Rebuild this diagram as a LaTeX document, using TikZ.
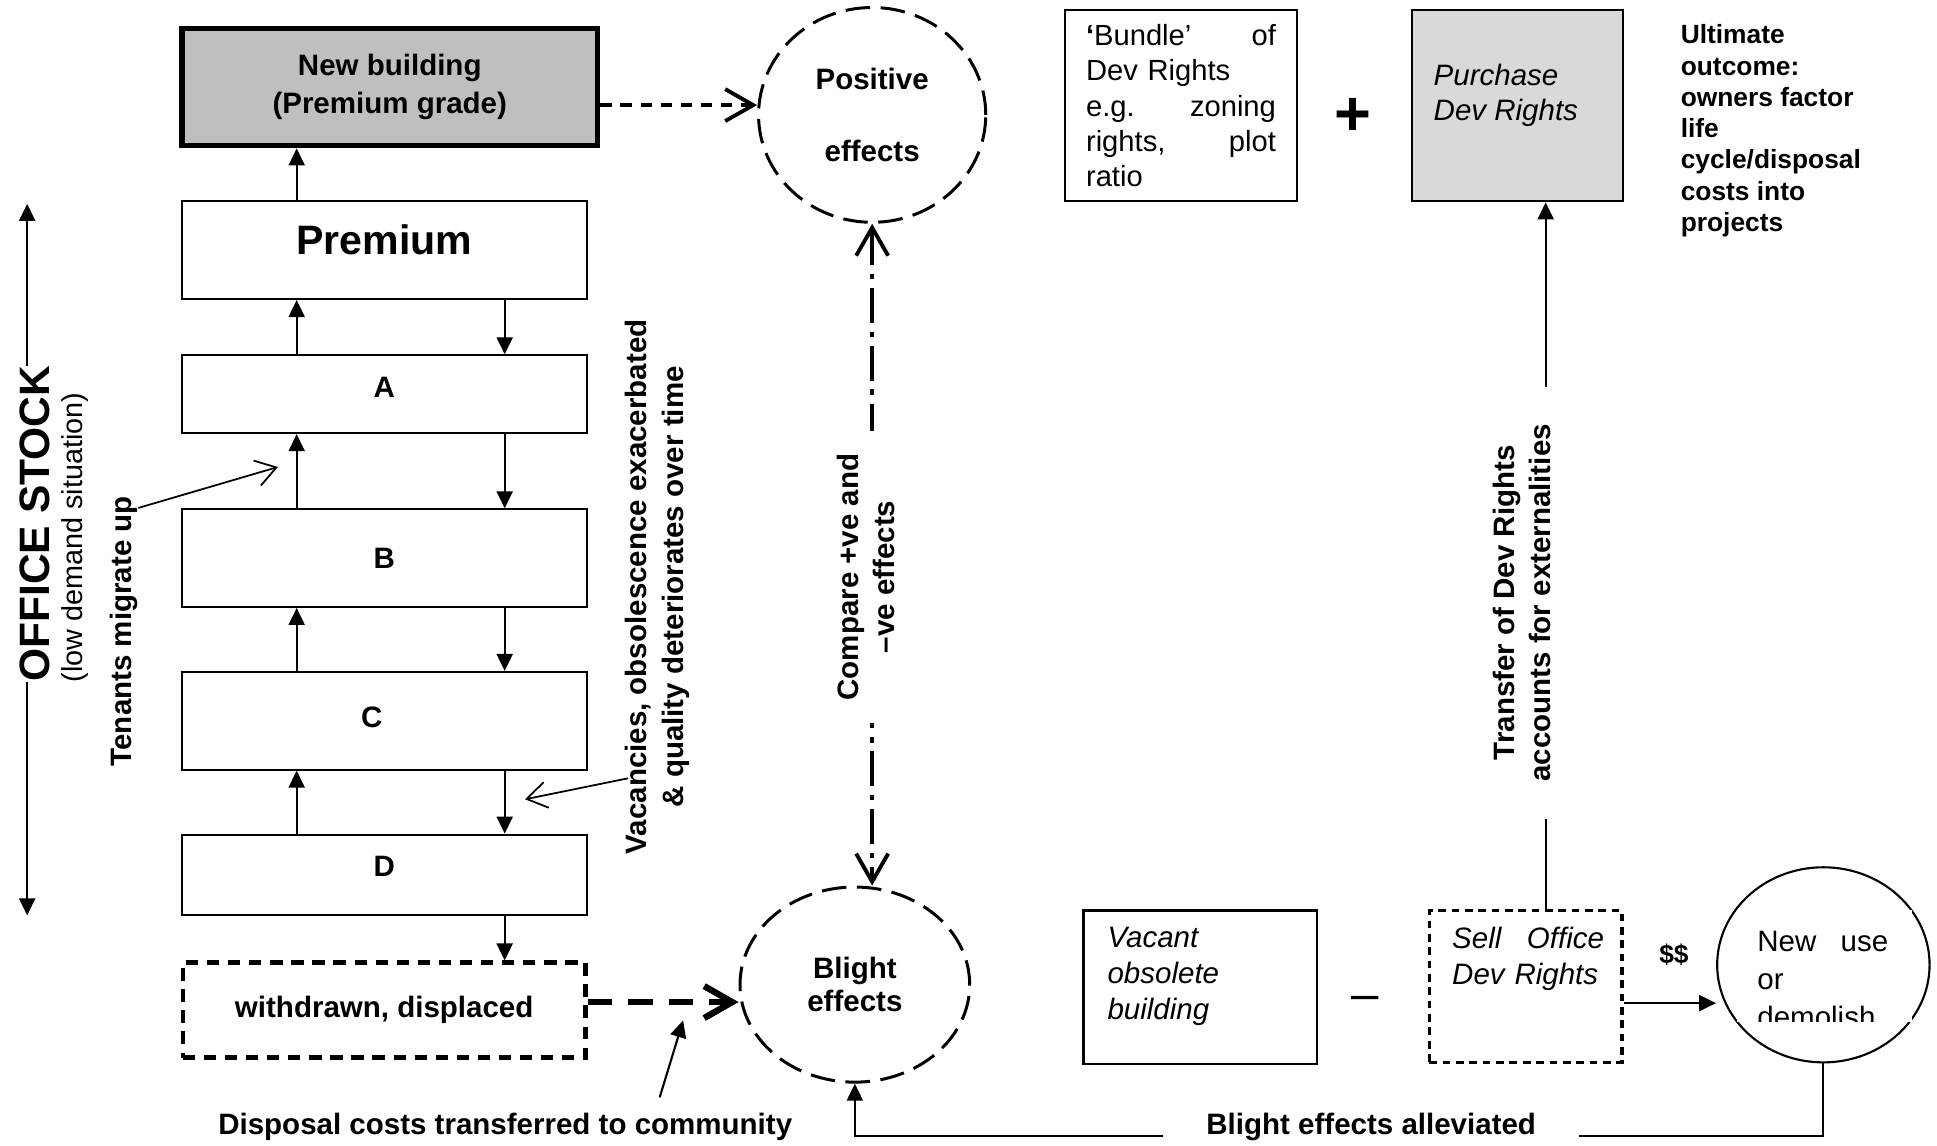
\documentclass[tikz,border=0pt]{standalone}
\usepackage{fontspec}
\setmainfont{Liberation Sans}
\usetikzlibrary{positioning, arrows.meta, shapes.geometric}

\begin{document}
\begin{tikzpicture}[
    x=0.012353cm, y=-0.012353cm,
    grade/.style={rectangle, draw, line width=0.6pt, minimum width=4.05cm, align=center,
                  font=\fontsize{8.4}{10.9}\selectfont\bfseries, inner sep=0pt},
    effect/.style={ellipse, draw, line width=0.85pt, dash pattern=on 7pt off 3pt,
                   inner sep=0pt, align=center, font=\fontsize{8.4}{10.5}\selectfont\bfseries},
    box/.style={rectangle, draw, line width=0.6pt, inner sep=0pt},
    txt/.style={inner sep=0pt, anchor=north west, align=left, font=\fontsize{8.4}{10.2}\selectfont},
    lbl/.style={inner sep=0pt, align=center, font=\fontsize{8.4}{10.5}\selectfont\bfseries},
    arr/.style={-{Triangle[length=1.7mm, width=1.6mm]}, line width=0.6pt},
    thinbarb/.style={-{Straight Barb[length=2mm, width=2.6mm]}, line width=0.5pt},
    barb/.style={-{Straight Barb[length=2.8mm, width=3.2mm]}, line width=1.1pt},
]
\useasboundingbox (0,0) rectangle (1568,927);

% Office stock grades
\node[grade, minimum width=4.16cm, minimum height=1.17cm, fill=gray!50, line width=1.6pt] (newb) at (315.5,70.5) {New building\\(Premium grade)};
\node[grade, minimum height=0.976cm, text depth=0.21cm, font=\fontsize{11.7}{14}\selectfont\bfseries] (prem) at (311,202.5) {Premium};
\node[grade, minimum height=0.778cm, text depth=0.136cm, below=0.543cm of prem] (ga) {A};
\node[grade, minimum height=0.976cm, below=0.742cm of ga] (gb) {B};
\node[grade, minimum height=0.976cm, text depth=0.08cm, below=0.63cm of gb] (gc) {C\hspace{0.25cm}};
\node[grade, minimum height=0.803cm, text depth=0.16cm, below=0.63cm of gc] (gd) {D};
\node[grade, minimum height=0.951cm, minimum width=4.03cm, below=0.445cm of gd,
      line width=1.2pt, dash pattern=on 3.5pt off 2.5pt] (wd) {withdrawn, displaced};

% Migration up / deterioration down
\foreach \lo/\hi in {prem/newb, ga/prem, gb/ga, gc/gb, gd/gc}
  \draw[arr] ([xshift=1.16cm]\lo.north west) -- ([xshift=1.16cm]\lo.north west |- \hi.south);
\foreach \hi/\lo in {prem/ga, ga/gb, gb/gc, gc/gd, gd/wd}
  \draw[arr] ([xshift=-0.83cm]\hi.south east) -- ([xshift=-0.83cm]\hi.south east |- \lo.north);

% Effects
\node[effect, minimum width=2.273cm, minimum height=2.149cm] (pos) at (706,93) {Positive\\[10pt]effects};
\node[effect, minimum width=2.298cm, minimum height=1.952cm, font=\fontsize{8.4}{9.2}\selectfont\bfseries] (blight) at (692,797) {Blight\\effects};

\draw[barb, dash pattern=on 3.3pt off 2.4pt] ([yshift=-0.18cm]newb.east) -- ([yshift=-0.18cm]newb.east -| pos.west);
\draw[barb, line width=1.8pt, dash pattern=on 7pt off 4.5pt] ([yshift=0.08cm]wd.east) -- ([yshift=0.08cm]wd.east -| blight.west);
\draw[{Straight Barb[length=2.8mm, width=3.2mm]}-{Straight Barb[length=2.8mm, width=3.2mm]}, line width=1.1pt,
      dash pattern=on 10pt off 2.5pt on 1.5pt off 2.5pt] (pos.south) -- (pos.south |- blight.north);
\node[lbl, rotate=90, fill=white, inner xsep=0.23cm, inner ysep=2pt] (cmp) at (701,467) {Compare +ve and\\–ve effects};

% Side labels
\coordinate (stktop) at (22,165);
\coordinate (stkbot) at (22,741);
\draw[{Triangle[length=1.7mm, width=1.6mm]}-{Triangle[length=1.7mm, width=1.6mm]}, line width=0.6pt] (stktop) -- (stkbot);
\node[rotate=90, fill=white, inner sep=0pt, font=\fontsize{12.1}{14}\selectfont\bfseries] (stock) at (28,424) {OFFICE STOCK};
\node[rotate=90, inner sep=0pt, font=\fontsize{8.2}{10}\selectfont] (demand) at (61,435) {(low demand situation)};

\node[lbl, rotate=90] (tenants) at (100,511) {Tenants migrate up};
\coordinate (migpt) at (225,378);
\draw[thinbarb] ([shift={(12,10)}]tenants.east) -- (migpt);

\node[lbl, rotate=90] (vac) at (532,475) {Vacancies, obsolescence exacerbated\\\& quality deteriorates over time};
\coordinate (vacpt) at (425,647);
\draw[thinbarb] ([shift={(3,-62)}]vac.north west) -- (vacpt);

\node[lbl] (disp) at (409,912) {Disposal costs transferred to community};
\coordinate (costpt) at (553,826);
\draw[arr] ([shift={(125,-12)}]disp.north) -- (costpt);

% Development rights
\node[box, minimum width=2.32cm, minimum height=1.915cm, text width=1.9cm, inner xsep=0.21cm,
      align=left, font=\fontsize{8.3}{10}\selectfont] (bundle) at (956,85.5)
      {{\bfseries‘}Bundle’\hfill of\\Dev Rights\\e.g.\hfill zoning\\rights,\hfill plot\\ratio};
\node[inner sep=0pt, font=\fontsize{18}{18}\selectfont\bfseries] (plus) at (1095,95) {+};
\node[box, fill=gray!30, minimum width=2.11cm, minimum height=1.915cm] (purch) at (1228.5,85.5) {};
\node[txt, font=\fontsize{8.4}{10.2}\selectfont\itshape] (purchtxt) at (1160,51) {Purchase\\Dev Rights};
\node[txt, font=\fontsize{7.5}{8.9}\selectfont\bfseries] (outcome) at (1360,19.5)
      {Ultimate\\outcome:\\owners factor\\life\\cycle/disposal\\costs into\\projects};

\node[box, minimum width=2.335cm, minimum height=1.532cm] (vacant) at (971.5,799) {};
\node[txt, font=\fontsize{8.4}{10.2}\selectfont\itshape] (vacanttxt) at (896,750) {Vacant\\obsolete\\building};
\node[inner sep=0pt, anchor=base, font=\fontsize{14}{14}\selectfont] (minus) at (1105,818) {–};
\node[box, line width=0.9pt, dash pattern=on 2.2pt off 1.6pt, minimum width=1.927cm, minimum height=1.52cm] (sell) at (1235,798.5) {};
\node[txt, text width=1.519cm, font=\fontsize{8.4}{10.2}\selectfont\itshape] (selltxt) at (1175,750) {Sell\hfill Office\\Dev Rights};

\node[ellipse, draw, line width=0.6pt, minimum width=2.125cm, minimum height=1.952cm, inner sep=0pt] (newuse) at (1476,781) {};
\begin{scope}
  \clip (1406,737) rectangle (1548,827);
  \fill[white] (1406,737) rectangle (1548,827);
  \node[txt, text width=1.309cm, font=\fontsize{8.4}{10.8}\selectfont] (newusetxt) at (1422,753) {New\hfill use\\or\\demolish};
\end{scope}

\draw[arr] ([yshift=-0.167cm]sell.east) -- ([yshift=-0.167cm]sell.east -| newuse.west);
\node[lbl, font=\fontsize{7.5}{9}\selectfont\bfseries] (cash) at (1355,773) {\$\$};

\draw[arr] ([xshift=0.2cm]sell.north) -- ([xshift=0.2cm]sell.north |- purch.south);
\node[lbl, rotate=90, fill=white, inner xsep=0.37cm, inner ysep=2pt] (transfer) at (1232,488) {Transfer of Dev Rights\\accounts for externalities};

\draw[arr] (newuse.south) |- ([yshift=-0.52cm]blight.south) -- (blight.south);
\node[lbl, fill=white, inner xsep=0.43cm, inner ysep=2pt] (allev) at (1110,912) {Blight effects alleviated};

\end{tikzpicture}
\end{document}
